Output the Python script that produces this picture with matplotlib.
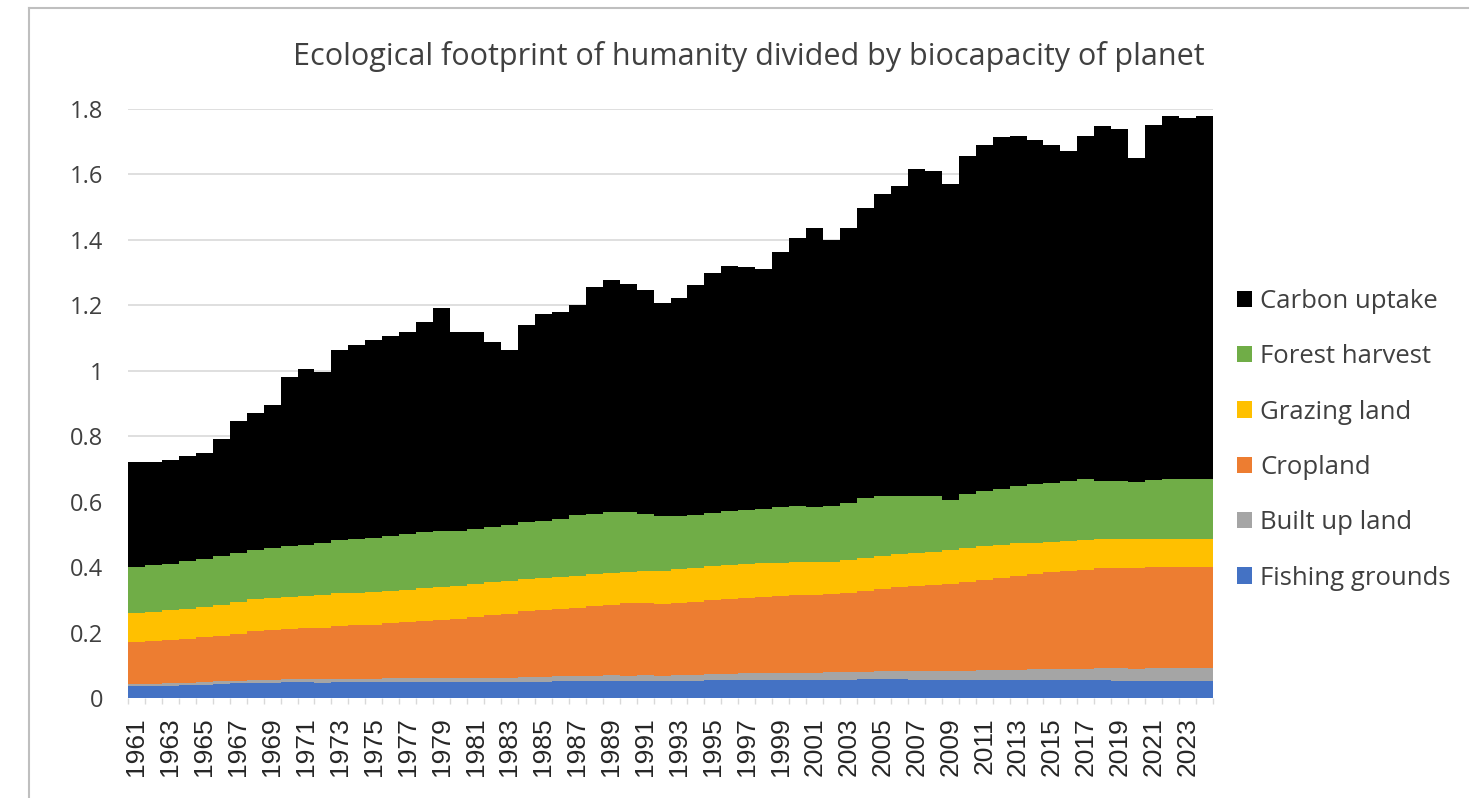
import matplotlib.pyplot as plt
import numpy as np

# years on the x axis
years = list(range(1961, 2025))

# layer thicknesses (bottom to top)
fishing = [0.036, 0.037, 0.038, 0.040, 0.041, 0.043, 0.045, 0.047, 0.047, 0.048,
           0.048, 0.047, 0.049, 0.049, 0.048, 0.049, 0.049, 0.048, 0.048, 0.048,
           0.048, 0.049, 0.049, 0.050, 0.050, 0.051, 0.052, 0.053, 0.053, 0.052,
           0.052, 0.051, 0.052, 0.053, 0.054, 0.055, 0.055, 0.055, 0.055, 0.056,
           0.055, 0.056, 0.056, 0.057, 0.057, 0.057, 0.056, 0.056, 0.055, 0.055,
           0.055, 0.055, 0.055, 0.055, 0.054, 0.054, 0.054, 0.054, 0.053, 0.052,
           0.052, 0.052, 0.052, 0.052]
built_up = [0.006, 0.006, 0.007, 0.007, 0.007, 0.008, 0.008, 0.008, 0.009, 0.009,
            0.009, 0.010, 0.010, 0.010, 0.011, 0.011, 0.011, 0.012, 0.012, 0.012,
            0.013, 0.013, 0.013, 0.014, 0.014, 0.015, 0.015, 0.015, 0.016, 0.016,
            0.017, 0.017, 0.018, 0.018, 0.019, 0.019, 0.020, 0.020, 0.021, 0.021,
            0.022, 0.022, 0.023, 0.023, 0.024, 0.025, 0.026, 0.027, 0.028, 0.029,
            0.030, 0.031, 0.032, 0.033, 0.034, 0.035, 0.036, 0.037, 0.038, 0.038,
            0.039, 0.039, 0.040, 0.040]
cropland = [0.129, 0.131, 0.132, 0.134, 0.137, 0.139, 0.143, 0.150, 0.152, 0.154,
            0.156, 0.158, 0.161, 0.163, 0.165, 0.168, 0.172, 0.176, 0.179, 0.182,
            0.187, 0.192, 0.196, 0.202, 0.204, 0.205, 0.208, 0.212, 0.216, 0.222,
            0.220, 0.220, 0.220, 0.223, 0.225, 0.228, 0.230, 0.233, 0.235, 0.237,
            0.238, 0.239, 0.242, 0.246, 0.252, 0.256, 0.259, 0.261, 0.265, 0.272,
            0.277, 0.282, 0.287, 0.291, 0.296, 0.299, 0.302, 0.305, 0.306, 0.308,
            0.308, 0.309, 0.308, 0.309]
grazing = [0.089, 0.090, 0.091, 0.092, 0.093, 0.095, 0.097, 0.097, 0.098, 0.099,
           0.099, 0.100, 0.100, 0.100, 0.100, 0.100, 0.099, 0.099, 0.099, 0.099,
           0.099, 0.099, 0.099, 0.099, 0.099, 0.099, 0.099, 0.098, 0.097, 0.096,
           0.098, 0.100, 0.103, 0.103, 0.104, 0.104, 0.105, 0.104, 0.103, 0.102,
           0.101, 0.100, 0.101, 0.103, 0.102, 0.102, 0.103, 0.103, 0.103, 0.103,
           0.102, 0.101, 0.099, 0.096, 0.094, 0.092, 0.091, 0.089, 0.088, 0.087,
           0.086, 0.086, 0.086, 0.085]
forest = [0.139, 0.141, 0.143, 0.145, 0.147, 0.148, 0.150, 0.151, 0.153, 0.155,
          0.157, 0.159, 0.163, 0.164, 0.165, 0.167, 0.169, 0.171, 0.172, 0.170,
          0.169, 0.170, 0.171, 0.172, 0.175, 0.178, 0.184, 0.184, 0.186, 0.182,
          0.174, 0.168, 0.162, 0.162, 0.163, 0.164, 0.166, 0.167, 0.169, 0.170,
          0.168, 0.169, 0.174, 0.181, 0.181, 0.176, 0.172, 0.169, 0.153, 0.163,
          0.168, 0.171, 0.175, 0.178, 0.180, 0.182, 0.187, 0.179, 0.178, 0.176,
          0.180, 0.183, 0.184, 0.184]
carbon = [0.321, 0.317, 0.317, 0.322, 0.325, 0.357, 0.402, 0.417, 0.436, 0.515,
          0.536, 0.521, 0.582, 0.594, 0.606, 0.610, 0.618, 0.644, 0.682, 0.609,
          0.602, 0.565, 0.537, 0.603, 0.632, 0.632, 0.642, 0.694, 0.710, 0.698,
          0.685, 0.652, 0.667, 0.703, 0.733, 0.749, 0.740, 0.733, 0.779, 0.821,
          0.851, 0.813, 0.839, 0.888, 0.924, 0.948, 1.002, 0.996, 0.966, 1.035,
          1.058, 1.073, 1.069, 1.052, 1.032, 1.011, 1.047, 1.085, 1.076, 0.988,
          1.086, 1.111, 1.102, 1.110]

names = ["Fishing grounds", "Built up land", "Cropland", "Grazing land",
         "Forest harvest", "Carbon uptake"]
colors = ["#4472c4", "#a5a5a5", "#ed7d31", "#ffc000", "#70ad47", "#000000"]
series = [fishing, built_up, cropland, grazing, forest, carbon]

fig = plt.figure(figsize=(14.83, 7.98), dpi=100)
ax = fig.add_axes([128 / 1483, 1 - 698 / 798, (1213 - 128) / 1483, (698 - 109) / 798])

x = np.arange(len(years))
bottom = np.zeros(len(years))
handles = []
for vals, name, col in zip(series, names, colors):
    h = ax.bar(x, vals, width=1.0, bottom=bottom, color=col, linewidth=0, label=name, zorder=2)
    handles.append(h)
    bottom += np.array(vals)

ax.set_xlim(-0.5, len(years) - 0.5)
ax.set_ylim(0, 1.8)
ax.set_yticks(np.arange(0, 1.81, 0.2))
ax.set_yticklabels(["0", "0.2", "0.4", "0.6", "0.8", "1", "1.2", "1.4", "1.6", "1.8"],
                   fontsize=17, color="#404040", family="Open Sans")
ax.set_xticks(x[::2])
ax.set_xticklabels([str(y) for y in years[::2]], rotation=90, fontsize=19,
                   color="#262626", family="Liberation Sans")
ax.set_xticks(np.arange(-0.5, len(years), 1), minor=True)
ax.tick_params(axis="y", length=0, pad=18)
ax.tick_params(axis="x", which="major", length=0, pad=14)
ax.tick_params(axis="x", which="minor", length=4, color="#d9d9d9", width=1)
ax.grid(axis="y", color="#d9d9d9", linewidth=1.2, zorder=0)
for s in ax.spines.values():
    s.set_visible(False)

fig.text(749 / 1483, 1 - 57 / 798, "Ecological footprint of humanity divided by biocapacity of planet",
         ha="center", va="center", fontsize=22, color="#404040", family="Open Sans")

leg = fig.legend(handles[::-1], names[::-1], loc="upper left",
                 bbox_to_anchor=(1237 / 1483, 1 - 289 / 798), frameon=False,
                 borderpad=0, borderaxespad=0,
                 handlelength=0.6, handleheight=0.6, handletextpad=0.3,
                 labelspacing=1.18, prop={"family": "Open Sans", "size": 18.5})
for t in leg.get_texts():
    t.set_color("#404040")

# chart area border (top and left edges visible)
fig.add_artist(plt.Line2D([29 / 1483, 1468 / 1483], [1 - 8 / 798, 1 - 8 / 798],
                          color="#bfbfbf", linewidth=1.5))
fig.add_artist(plt.Line2D([29 / 1483, 29 / 1483], [0, 1 - 8 / 798],
                          color="#bfbfbf", linewidth=1.5))

fig.savefig("out.png", dpi=100)
